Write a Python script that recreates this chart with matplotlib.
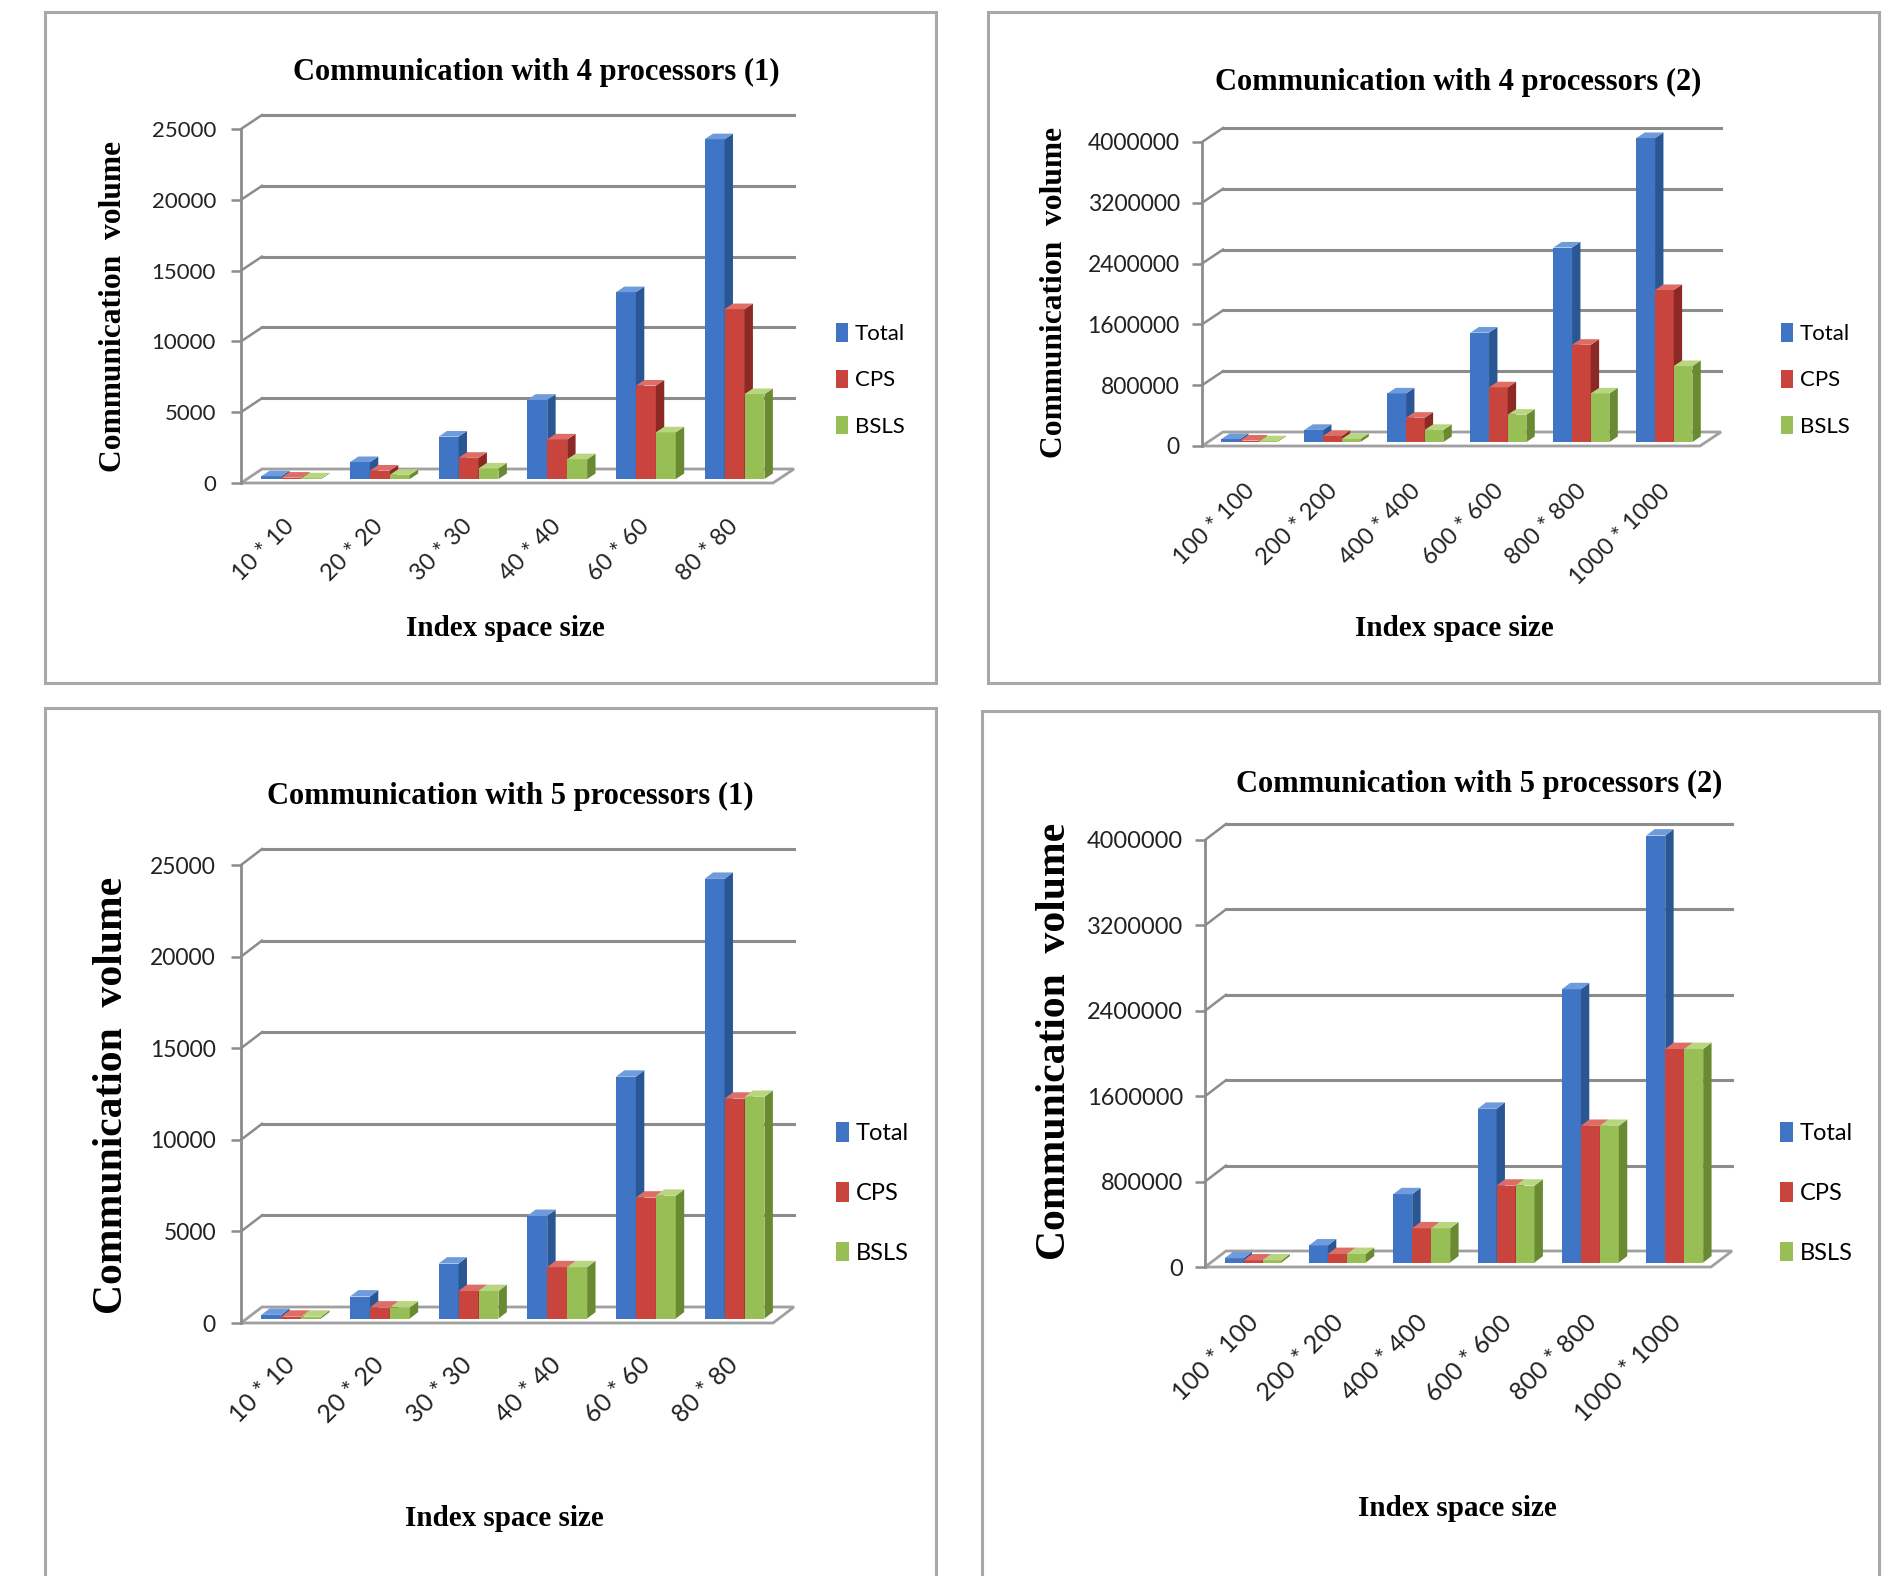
import matplotlib
matplotlib.use('Agg')
import matplotlib.pyplot as plt
from matplotlib.patches import Polygon, Rectangle, Patch
from matplotlib.transforms import ScaledTranslation

W, H, DPI = 1889, 1576, 100

# ---------------- data ----------------
cats_small = ['10 * 10', '20 * 20', '30 * 30', '40 * 40', '60 * 60', '80 * 80']
cats_large = ['100 * 100', '200 * 200', '400 * 400', '600 * 600', '800 * 800', '1000 * 1000']
series_names = ['Total', 'CPS', 'BSLS']

p4_small_total = [200, 1200, 3000, 5600, 13200, 24000]
p4_small_cps = [100, 600, 1500, 2800, 6600, 12000]
p4_small_bsls = [50, 300, 750, 1400, 3300, 6000]

p4_large_total = [40000, 160000, 640000, 1440000, 2560000, 4000000]
p4_large_cps = [20000, 80000, 320000, 720000, 1280000, 2000000]
p4_large_bsls = [10000, 40000, 160000, 360000, 640000, 1000000]

p5_small_total = [200, 1200, 3000, 5600, 13200, 24000]
p5_small_cps = [100, 600, 1500, 2800, 6600, 12000]
p5_small_bsls = [100, 600, 1500, 2800, 6700, 12100]

p5_large_total = [40000, 160000, 640000, 1440000, 2560000, 4000000]
p5_large_cps = [20000, 80000, 320000, 720000, 1280000, 2000000]
p5_large_bsls = [20000, 80000, 320000, 720000, 1280000, 2000000]

ticks_small = [0, 5000, 10000, 15000, 20000, 25000]
ticks_large = [0, 800000, 1600000, 2400000, 3200000, 4000000]

# ---------------- style ----------------
front_cols = ['#4074C4', '#C9443D', '#98BF56']
side_cols = ['#2A5794', '#8C2925', '#6A8A32']
top_cols = ['#6E9BDB', '#DE6D66', '#B8D67F']
grid_col = '#8C8C8C'
box_col = '#A8A8A8'
SERIF = ['Liberation Serif', 'DejaVu Serif']
SANS = ['Lato', 'DejaVu Sans']

fig = plt.figure(figsize=(W / DPI, H / DPI), dpi=DPI)


def fx(x):
    return x / W


def fy(y):
    return 1 - y / H


panels = [
    dict(box=(45, 12, 936, 683), plot=(241, 773, 129, 483), depth=(21, 14),
         cats=cats_small, data=[p4_small_total, p4_small_cps, p4_small_bsls],
         ticks=ticks_small, title='Communication with 4 processors (1)', title_xy=(536, 72), title_fs=22,
         ylab_xy=(114, 306), ylab_fs=22.7, xlab_xy=(505, 629), xlab_fs=21,
         leg_xy=(836, 380), leg_sp=1.15, leg_fs=16, tick_fs=16, tick_pad=11, xt_fs=17, xt_pad=40, xt_dx=6),
    dict(box=(988, 12, 1879, 683), plot=(1202, 1700, 142, 446), depth=(21, 14),
         cats=cats_large, data=[p4_large_total, p4_large_cps, p4_large_bsls],
         ticks=ticks_large, title='Communication with 4 processors (2)', title_xy=(1458, 82), title_fs=22,
         ylab_xy=(1055, 292), ylab_fs=22.7, xlab_xy=(1454, 629), xlab_fs=21,
         leg_xy=(1781, 380), leg_sp=1.15, leg_fs=16, tick_fs=16.5, tick_pad=9, xt_fs=17, xt_pad=42, xt_dx=8),
    dict(box=(45, 708, 936, 1600), plot=(241, 773, 865, 1323), depth=(21, 16),
         cats=cats_small, data=[p5_small_total, p5_small_cps, p5_small_bsls],
         ticks=ticks_small, title='Communication with 5 processors (1)', title_xy=(510, 796), title_fs=22,
         ylab_xy=(112, 1095), ylab_fs=30, xlab_xy=(504, 1518), xlab_fs=21,
         leg_xy=(836, 1193), leg_sp=1.6, leg_fs=17, tick_fs=16.5, tick_pad=11, xt_fs=18, xt_pad=38, xt_dx=6),
    dict(box=(982, 711, 1879, 1600), plot=(1205, 1711, 840, 1267), depth=(21, 16),
         cats=cats_large, data=[p5_large_total, p5_large_cps, p5_large_bsls],
         ticks=ticks_large, title='Communication with 5 processors (2)', title_xy=(1479, 784), title_fs=22,
         ylab_xy=(1055, 1041), ylab_fs=30, xlab_xy=(1457, 1509), xlab_fs=21,
         leg_xy=(1780, 1193), leg_sp=1.6, leg_fs=17, tick_fs=17, tick_pad=9, xt_fs=18, xt_pad=52, xt_dx=8),
]

for p in panels:
    l, t, r, b = p['box']
    fig.patches.append(Rectangle((fx(l), fy(b)), fx(r - l), (b - t) / H, transform=fig.transFigure,
                                 fill=False, ec=box_col, lw=2.2, zorder=0))

    x0, x1, yt, yb = p['plot']
    ymax = p['ticks'][-1]
    ax = fig.add_axes([fx(x0), fy(yb), (x1 - x0) / W, (yb - yt) / H])
    ax.set_xlim(-0.5, 5.5)
    ax.set_ylim(0, ymax)
    ax.patch.set_visible(False)
    for s in ['top', 'right', 'bottom']:
        ax.spines[s].set_visible(False)
    ax.spines['left'].set_color(grid_col)
    ax.spines['left'].set_linewidth(2)

    n = len(p['cats'])
    ddx = p['depth'][0] * n / (x1 - x0)
    ddy = p['depth'][1] * ymax / (yb - yt)

    # y axis ticks
    ax.set_yticks(p['ticks'])
    ax.set_yticklabels([str(v) for v in p['ticks']], fontsize=p['tick_fs'], family=SANS, color='#222222')
    ax.tick_params(axis='y', length=7, width=1.8, color=grid_col, pad=p['tick_pad'])

    # back wall gridlines and side wall edges
    for v in p['ticks'][1:]:
        ax.plot([-0.5 + ddx, 5.5 + ddx], [v + ddy, v + ddy], color=grid_col, lw=2.2, clip_on=False, zorder=1)
        ax.plot([-0.5, -0.5 + ddx], [v, v + ddy], color=grid_col, lw=1.8, clip_on=False, zorder=1)

    # floor
    floor = Polygon([(-0.5, 0), (5.5, 0), (5.5 + ddx, ddy), (-0.5 + ddx, ddy)], closed=True,
                    fc='white', ec='#A0A0A0', lw=2, clip_on=False, zorder=2)
    ax.add_patch(floor)

    # bars
    w = 0.225
    f0, bd = 0.28, 0.4
    xs = list(range(n))
    for i, (vals, name) in enumerate(zip(p['data'], series_names)):
        pos = [x + (i - 1) * w + f0 * ddx for x in xs]
        bars = ax.bar(pos, vals, width=w, bottom=f0 * ddy, color=front_cols[i], lw=0,
                      zorder=3 + i, clip_on=False)
        for rect in bars:
            xl = rect.get_x()
            xr = xl + rect.get_width()
            y0 = rect.get_y()
            y1 = y0 + rect.get_height()
            ax.add_patch(Polygon([(xr, y0), (xr + bd * ddx, y0 + bd * ddy), (xr + bd * ddx, y1 + bd * ddy), (xr, y1)],
                                 closed=True, fc=side_cols[i], ec='none', clip_on=False, zorder=3 + i))
            ax.add_patch(Polygon([(xl, y1), (xr, y1), (xr + bd * ddx, y1 + bd * ddy), (xl + bd * ddx, y1 + bd * ddy)],
                                 closed=True, fc=top_cols[i], ec='none', clip_on=False, zorder=3 + i))

    # x tick labels
    ax.set_xticks(xs)
    ax.set_xticklabels(p['cats'], rotation=45, ha='right', va='center', rotation_mode='anchor',
                       fontsize=p['xt_fs'], family=SANS, color='#222222')
    ax.tick_params(axis='x', length=0, pad=p['xt_pad'] * 72 / DPI)
    for lab in ax.get_xticklabels():
        lab.set_transform(lab.get_transform() + ScaledTranslation(p['xt_dx'] / DPI, 0, fig.dpi_scale_trans))

    # titles and labels
    fig.text(fx(p['title_xy'][0]), fy(p['title_xy'][1]), p['title'], ha='center', va='center',
             fontsize=p['title_fs'], fontweight='bold', family=SERIF)
    fig.text(fx(p['ylab_xy'][0]), fy(p['ylab_xy'][1]), 'Communication  volume', ha='center', va='center',
             rotation=90, fontsize=p['ylab_fs'], fontweight='bold', family=SERIF)
    fig.text(fx(p['xlab_xy'][0]), fy(p['xlab_xy'][1]), 'Index space size', ha='center', va='center',
             fontsize=p['xlab_fs'], fontweight='bold', family=SERIF)

    # legend
    handles = [Patch(fc=front_cols[i], ec='none') for i in range(3)]
    fig.legend(handles, series_names, loc='center left', frameon=False,
               bbox_to_anchor=(fx(p['leg_xy'][0]), fy(p['leg_xy'][1])), bbox_transform=fig.transFigure,
               borderpad=0, borderaxespad=0, handlelength=0.55, handleheight=0.9, handletextpad=0.3,
               labelspacing=p['leg_sp'], prop=dict(family=SANS, size=p['leg_fs']))

fig.savefig('out.png', dpi=DPI, facecolor='white')
